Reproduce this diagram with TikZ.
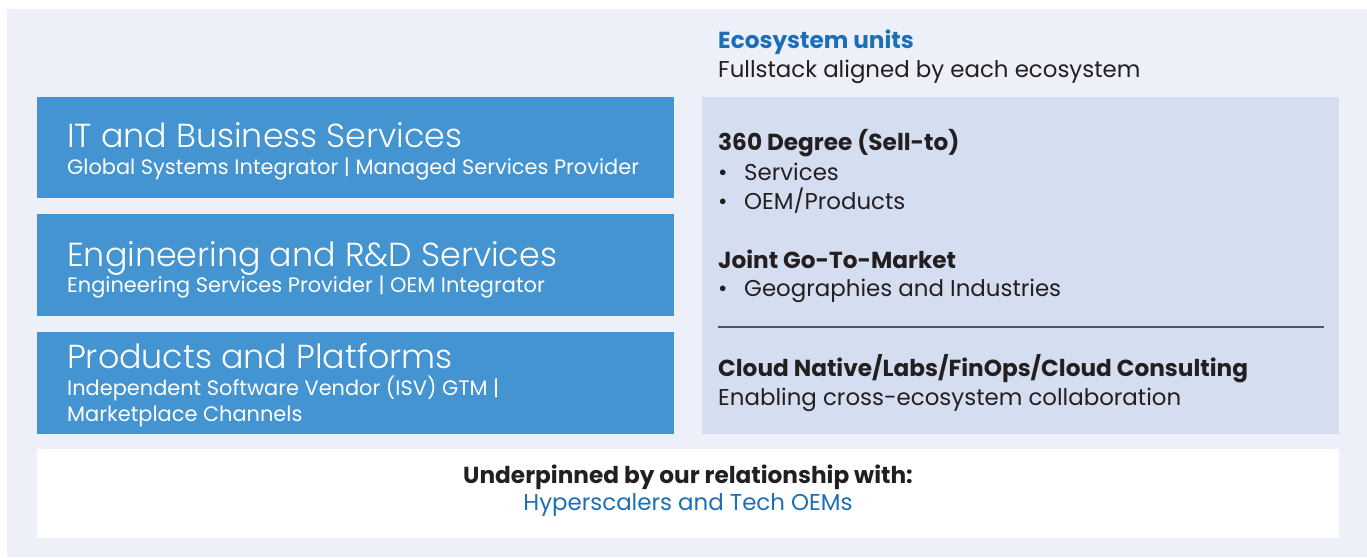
\documentclass[tikz,border=0pt]{standalone}
\usepackage{fontspec}
\setmainfont{Poppins}
\newfontfamily\lightfont{Poppins Light}
\usepackage{tikz}
\definecolor{BgLav}{HTML}{EDF0F9}
\definecolor{PanelLav}{HTML}{D5DEF1}
\definecolor{BoxBlue}{HTML}{4394D0}
\definecolor{TextDark}{HTML}{231F20}
\definecolor{TextBlue}{HTML}{1B6FB7}
\definecolor{RuleGray}{HTML}{555555}
\tikzstyle{txt}=[inner sep=0pt,anchor=base west]
\tikzstyle{boxtitle}=[txt,text=white,font=\lightfont\fontsize{33.3}{33.3}\selectfont]
\tikzstyle{boxsub}=[txt,text=white,font=\fontsize{20.9}{20.9}\selectfont]
\tikzstyle{head}=[txt,text=TextDark,font=\bfseries\fontsize{23.2}{23.2}\selectfont]
\tikzstyle{body}=[txt,text=TextDark,font=\fontsize{22.9}{22.9}\selectfont]
\tikzstyle{rule}=[-,draw=RuleGray,line width=1.3]

\begin{document}
\begin{tikzpicture}[x=1pt,y=-1pt]
  \useasboundingbox[fill=white] (0,0) rectangle (1367,557);
  \fill[BgLav] (7,9) rectangle (1367,557);
  % left column
  \fill[BoxBlue] (37,97) rectangle (674,198);
  \fill[BoxBlue] (37,214) rectangle (674,316);
  \fill[BoxBlue] (37,332) rectangle (674,434);
  \fill[PanelLav] (702,97) rectangle (1339,434);
  \fill[white] (37,449) rectangle (1339,538);
  \node [style=boxtitle] (itTitle) at (67,147.5) {IT and Business Services};
  \node [style=boxsub] (itSub) at (67,174.5) {Global Systems Integrator | Managed Services Provider};
  \node [style=boxtitle] (engTitle) at (67,266) {Engineering and R\&D Services};
  \node [style=boxsub] (engSub) at (67,292.7) {Engineering Services Provider | OEM Integrator};
  \node [style=boxtitle] (prodTitle) at (67,368.3) {Products and Platforms};
  \node [style=boxsub] (prodSubA) at (67,395.5) {Independent Software Vendor (ISV) GTM |};
  \node [style=boxsub] (prodSubB) at (67,421.5) {Marketplace Channels};
  % right column
  \node [style=head,text=TextBlue] (ecoHead) at (718,48.3) {Ecosystem units};
  \node [style=body] (ecoSub) at (718,77.2) {Fullstack aligned by each ecosystem};
  \node [style=head] (sellHead) at (718,150) {360 Degree (Sell-to)};
  \node [style=body] (sellA) at (718,180) {\makebox[26pt][l]{•}Services};
  \node [style=body] (sellB) at (718,209) {\makebox[26pt][l]{•}OEM/Products};
  \node [style=head] (gtmHead) at (718,268) {Joint Go-To-Market};
  \node [style=body] (gtmA) at (718,296.5) {\makebox[26pt][l]{•}Geographies and Industries};
  \coordinate (ruleL) at (718,327);
  \coordinate (ruleR) at (1324,327);
  \draw [style=rule] (ruleL) to (ruleR);
  \node [style=head] (cloudHead) at (718,376) {Cloud Native/Labs/FinOps/Cloud Consulting};
  \node [style=body] (cloudSub) at (718,405) {Enabling cross-ecosystem collaboration};
  % bottom strip
  \node [style=head,anchor=base] (baseHead) at (688,483.3) {Underpinned by our relationship with:};
  \node [style=body,anchor=base,text=TextBlue] (baseSub) at (688,510.5) {Hyperscalers and Tech OEMs};
\end{tikzpicture}
\end{document}
